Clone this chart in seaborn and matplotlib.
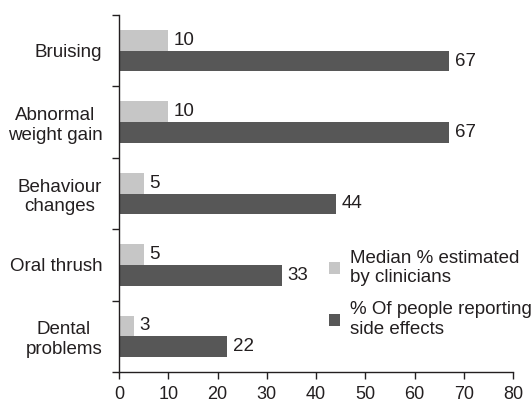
import matplotlib
matplotlib.use("Agg")

import matplotlib.pyplot as plt
import matplotlib.ticker as mtick
import seaborn as sns
import pandas as pd

# ── Data ────────────────────────────────────────────────────────────────────
effects   = ["Bruising", "Abnormal\nweight gain", "Behaviour\nchanges",
             "Oral thrush", "Dental\nproblems"]
clinician = [10, 10, 5, 5, 3]
reported  = [67, 67, 44, 33, 22]
series    = ["Median % estimated\nby clinicians",
             "% Of people reporting\nside effects"]

LIGHT = "#c6c6c6"
DARK  = "#575757"
TEXT  = "#231f20"
FS    = 13.5

df = pd.DataFrame({
    "effect": effects * 2,
    "value":  clinician + reported,
    "series": [series[0]] * len(effects) + [series[1]] * len(effects),
})

sns.set_style("ticks")
plt.rcParams["font.family"] = ["Liberation Sans", "DejaVu Sans"]
plt.rcParams["text.color"] = TEXT

fig = plt.figure(figsize=(5.32, 4.03), dpi=100)
ax = fig.add_axes([0.2237, 0.0769, 0.7406, 0.8859])

sns.barplot(data=df, y="effect", x="value", hue="series",
            palette=[LIGHT, DARK], orient="h", width=0.58, gap=0,
            saturation=1, edgecolor="none", errorbar=None, ax=ax)

for cont in ax.containers:
    ax.bar_label(cont, padding=4, fontsize=FS, color=TEXT)

ax.set_xlim(0, 80)
ax.set_ylim(4.5, -0.5)
ax.xaxis.set_major_locator(mtick.MultipleLocator(10))
ax.set_xlabel("")
ax.set_ylabel("")

# category separators as ticks on the y axis
ax.yaxis.set_minor_locator(mtick.FixedLocator([-0.5, 0.5, 1.5, 2.5, 3.5, 4.5]))
ax.tick_params(axis="y", which="major", length=0, pad=12, labelsize=FS,
               labelcolor=TEXT)
ax.tick_params(axis="y", which="minor", length=5, width=1, color=TEXT)
ax.tick_params(axis="x", length=5, width=1, color=TEXT, labelsize=13,
               labelcolor=TEXT, pad=5)
for lbl in ax.get_yticklabels():
    lbl.set_horizontalalignment("right")
    lbl.set_multialignment("center")

ax.spines[["top", "right"]].set_visible(False)
for sp in ("left", "bottom"):
    ax.spines[sp].set_color(TEXT)
    ax.spines[sp].set_linewidth(1)

handles, labels = ax.get_legend_handles_labels()
ax.legend(handles, labels, loc="center left",
          bbox_to_anchor=(329 / 532, 1 - 294 / 403),
          bbox_transform=fig.transFigure, frameon=False, fontsize=FS,
          handlelength=0.6, handleheight=0.6, handletextpad=0.5,
          labelspacing=0.8, borderpad=0, borderaxespad=0)

fig.savefig("out.png", dpi=100, facecolor="white")
